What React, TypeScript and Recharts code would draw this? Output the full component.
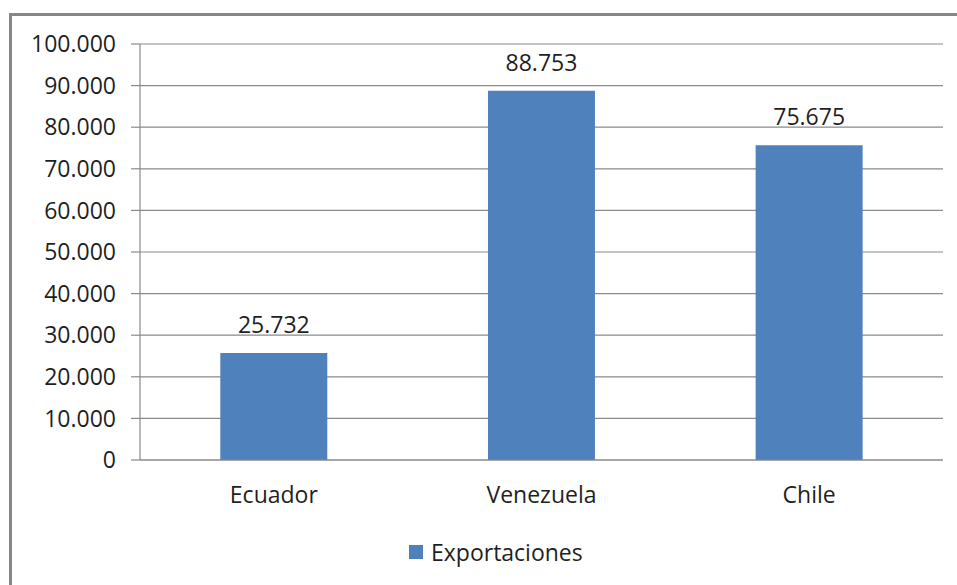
import { BarChart, Bar, XAxis, YAxis, CartesianGrid, Legend, LabelList } from "recharts";

const countries = ["Ecuador", "Venezuela", "Chile"];
const exportValues = [25732, 88753, 75675];
const yTicks = [0, 10000, 20000, 30000, 40000, 50000, 60000, 70000, 80000, 90000, 100000];
const boundaryTicks = [0, 1, 2, 3];

const data = countries.map((name, i) => ({ name, exportaciones: exportValues[i] }));

const FONT = "'Open Sans', 'Noto Sans', sans-serif";
const GRID = "#8a8a8a";
const BAR = "#4F81BD";
const TEXT = "#1f1f1f";

// thousands with a dot, like the original Spanish locale
const fmt = (v: number) => (v === 0 ? "0" : v.toLocaleString("de-DE"));

function LegendBox({ payload }: any) {
  const item = payload && payload[0];
  return (
    <div style={{ display: "flex", alignItems: "center", fontFamily: FONT, fontSize: 23, color: TEXT, lineHeight: "32px" }}>
      <span style={{ width: 14, height: 14, background: BAR, display: "inline-block", marginRight: 8 }} />
      <span>{item ? item.value : "Exportaciones"}</span>
    </div>
  );
}

export default function App() {
  return (
    <div style={{ position: "absolute", left: 0, top: 0, width: 957, height: 585, overflow: "hidden", background: "#fff" }}>
      <div
        style={{
          position: "absolute",
          left: 9,
          top: 13,
          width: 1000,
          height: 700,
          border: "3px solid #878787",
          boxSizing: "border-box",
        }}
      />
      <div style={{ position: "absolute", left: 0, top: 0 }}>
        <BarChart
          width={957}
          height={585}
          data={data}
          margin={{ top: 44, right: 14, bottom: 53, left: 0 }}
          barCategoryGap="30%"
          style={{ fontFamily: FONT }}
        >
          <CartesianGrid vertical={false} stroke={GRID} strokeWidth={1.2} />
          {/* category boundary ticks, Excel style */}
          <XAxis
            xAxisId="bounds"
            type="number"
            domain={[0, 3]}
            ticks={boundaryTicks}
            tickFormatter={() => ""}
            tickSize={9}
            tickLine={{ stroke: GRID, strokeWidth: 1.2 }}
            axisLine={false}
            height={0}
          />
          <XAxis
            dataKey="name"
            tickLine={false}
            axisLine={{ stroke: GRID, strokeWidth: 1.2 }}
            tickSize={0}
            tickMargin={27}
            tick={{ fontSize: 23, fill: TEXT }}
            height={40}
          />
          <YAxis
            width={140}
            domain={[0, 100000]}
            ticks={yTicks}
            tickFormatter={fmt}
            tickSize={9}
            tickMargin={15}
            tick={{ fontSize: 23, fill: TEXT }}
            axisLine={{ stroke: GRID, strokeWidth: 1.2 }}
            tickLine={{ stroke: GRID, strokeWidth: 1.2 }}
            interval={0}
          />
          <Bar dataKey="exportaciones" name="Exportaciones" fill={BAR} isAnimationActive={false}>
            <LabelList dataKey="exportaciones" position="top" offset={20} formatter={(v: any) => fmt(Number(v))} style={{ fontSize: 23, fill: TEXT }} />
          </Bar>
          <Legend
            content={<LegendBox />}
            wrapperStyle={{ left: 409, top: 536, width: "auto" }}
          />
        </BarChart>
      </div>
    </div>
  );
}
